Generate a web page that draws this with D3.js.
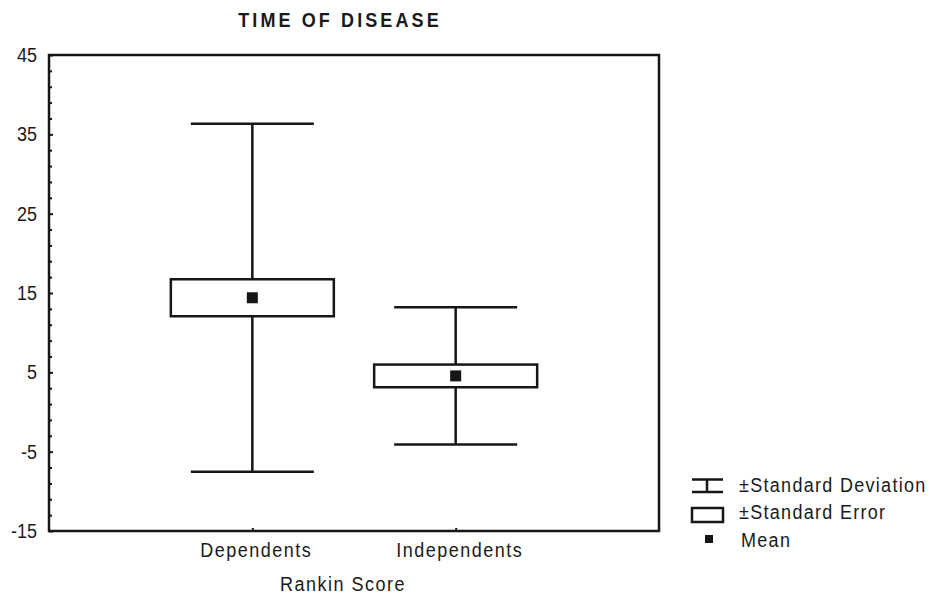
<!DOCTYPE html>
<html>
<head>
<meta charset="utf-8">
<script src="https://cdn.jsdelivr.net/npm/d3@7"></script>
<style>
  body { margin: 0; background: #fff; }
  text { font-family: "Liberation Sans", Arial, sans-serif; fill: #1a1a1a; }
</style>
</head>
<body>
<div id="chart"></div>
<script>
// data
const categories = ["Dependents", "Independents"];
const means = [14.4, 4.55];
const stdErr = [2.33, 1.43];
const stdDev = [21.93, 8.65];
const yTicks = [45, 35, 25, 15, 5, -5, -15];
const legendLabels = ["\u00b1Standard Deviation", "\u00b1Standard Error", "Mean"];

const width = 934, height = 596;
const plot = {left: 49, right: 659, top: 55, bottom: 531};
const ink = "#161616";
const stretch = 1.14; // text in the original is drawn a bit tall

const svg = d3.select("#chart").append("svg")
    .attr("width", width)
    .attr("height", height);

const x = d3.scalePoint().domain(categories).range([plot.left, plot.right]).padding(1);
const y = d3.scaleLinear().domain([-15, 45]).range([plot.bottom, plot.top]);

function tallText(sel, tx, ty) {
    return sel.attr("transform", (d, i) => `translate(${tx(d, i)},${ty(d, i)}) scale(1,${stretch})`);
}

// title
tallText(svg.append("text"), () => 340, () => 27)
    .attr("text-anchor", "middle")
    .style("font-size", "18px").style("font-weight", "bold").style("letter-spacing", "3.1px")
    .text("TIME OF DISEASE");

// minor ticks (every 2)
const minor = d3.range(-15, 46, 1).filter(v => (v + 15) % 2 === 0 && (v + 15) % 10 !== 0);
svg.append("g")
    .attr("transform", `translate(${plot.left},0)`)
    .call(d3.axisLeft(y).tickValues(minor).tickSize(-3).tickFormat(""))
    .call(g => g.select(".domain").remove())
    .call(g => g.selectAll("line").attr("stroke", ink).attr("stroke-width", 2));

// major ticks + labels
svg.append("g")
    .attr("transform", `translate(${plot.left},0)`)
    .call(d3.axisLeft(y).tickValues(yTicks).tickSize(-4).tickPadding(12).tickFormat(d => String(d)))
    .call(g => g.select(".domain").remove())
    .call(g => g.selectAll("line").attr("stroke", ink).attr("stroke-width", 2))
    .call(g => g.selectAll("text")
        .attr("transform", `scale(1,${stretch})`)
        .style("font-size", "18px").style("font-family", "'Liberation Sans', Arial, sans-serif")
        .attr("fill", "#1a1a1a"));

// x ticks
svg.append("g")
    .attr("transform", `translate(0,${plot.bottom})`)
    .call(d3.axisBottom(x).tickSize(-3).tickFormat(""))
    .call(g => g.select(".domain").remove())
    .call(g => g.selectAll("line").attr("stroke", ink).attr("stroke-width", 2));

// frame
svg.append("rect")
    .attr("x", plot.left).attr("y", plot.top)
    .attr("width", plot.right - plot.left).attr("height", plot.bottom - plot.top)
    .attr("fill", "none").attr("stroke", ink).attr("stroke-width", 2.5);

// category labels
tallText(svg.selectAll(".cat")
    .data(categories)
    .enter().append("text")
    .attr("class", "cat"), d => x(d) + 4, () => 557)
    .attr("text-anchor", "middle")
    .style("font-size", "18px").style("letter-spacing", "1.5px")
    .text(d => d);

tallText(svg.append("text"), () => 343, () => 591)
    .attr("text-anchor", "middle")
    .style("font-size", "18px").style("letter-spacing", "1.5px")
    .text("Rankin Score");

// box plots
const boxW = 163, capW = 123, markS = 11;
const groups = svg.selectAll(".grp")
    .data(categories.map((c, i) => ({c, m: means[i], se: stdErr[i], sd: stdDev[i]})))
    .enter().append("g").attr("class", "grp");

groups.append("line")
    .attr("x1", d => x(d.c)).attr("x2", d => x(d.c))
    .attr("y1", d => y(d.m + d.sd)).attr("y2", d => y(d.m - d.sd))
    .attr("stroke", ink).attr("stroke-width", 2.5);

groups.selectAll(".cap")
    .data(d => [d.m + d.sd, d.m - d.sd].map(v => ({c: d.c, v})))
    .enter().append("line")
    .attr("x1", d => x(d.c) - capW / 2).attr("x2", d => x(d.c) + capW / 2)
    .attr("y1", d => y(d.v)).attr("y2", d => y(d.v))
    .attr("stroke", ink).attr("stroke-width", 2.5);

groups.append("rect")
    .attr("x", d => x(d.c) - boxW / 2)
    .attr("y", d => y(d.m + d.se))
    .attr("width", boxW)
    .attr("height", d => y(d.m - d.se) - y(d.m + d.se))
    .attr("fill", "#fff").attr("stroke", ink).attr("stroke-width", 2.5);

groups.append("rect")
    .attr("x", d => x(d.c) - markS / 2)
    .attr("y", d => y(d.m) - markS / 2)
    .attr("width", markS).attr("height", markS)
    .attr("fill", ink);

// legend
const lg = svg.append("g");
const lx = 707;
lg.append("line").attr("x1", lx - 15).attr("x2", lx + 16).attr("y1", 479.5).attr("y2", 479.5).attr("stroke", ink).attr("stroke-width", 2.5);
lg.append("line").attr("x1", lx - 15).attr("x2", lx + 16).attr("y1", 492).attr("y2", 492).attr("stroke", ink).attr("stroke-width", 2.5);
lg.append("line").attr("x1", lx).attr("x2", lx).attr("y1", 479.5).attr("y2", 492).attr("stroke", ink).attr("stroke-width", 2.5);
lg.append("rect").attr("x", 692).attr("y", 508).attr("width", 31).attr("height", 14)
    .attr("fill", "none").attr("stroke", ink).attr("stroke-width", 2.5);
lg.append("rect").attr("x", 705).attr("y", 535).attr("width", 8).attr("height", 8).attr("fill", ink);

tallText(lg.selectAll(".lt")
    .data(legendLabels)
    .enter().append("text")
    .attr("class", "lt"), (d, i) => i === 2 ? 741 : 739, (d, i) => [492, 519, 547][i])
    .style("font-size", "18px").style("letter-spacing", "1.3px")
    .text(d => d);
</script>
</body>
</html>
